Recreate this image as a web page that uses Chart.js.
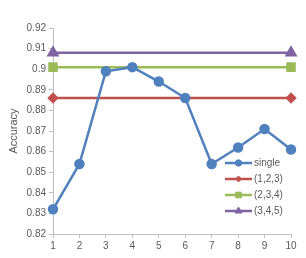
<!DOCTYPE html>
<html lang="en">
<head>
  <meta charset="UTF-8">
  <title>Accuracy</title>
  <script src="https://cdn.jsdelivr.net/npm/chart.js"></script>
  <style>
    html, body { margin: 0; padding: 0; background: #fff; }
    #wrap { width: 306px; height: 258px; }
  </style>
</head>
<body>
  <div id="wrap"><canvas id="accChart" width="306" height="258"></canvas></div>

  <script>
    // values
    const steps = [1, 2, 3, 4, 5, 6, 7, 8, 9, 10];
    const single = [0.832, 0.854, 0.899, 0.901, 0.894, 0.886, 0.854, 0.862, 0.871, 0.861];
    const win123 = [0.886, 0.886, 0.886, 0.886, 0.886, 0.886, 0.886, 0.886, 0.886, 0.886];
    const win234 = [0.901, 0.901, 0.901, 0.901, 0.901, 0.901, 0.901, 0.901, 0.901, 0.901];
    const win345 = [0.908, 0.908, 0.908, 0.908, 0.908, 0.908, 0.908, 0.908, 0.908, 0.908];
    const yTicks = [0.82, 0.83, 0.84, 0.85, 0.86, 0.87, 0.88, 0.89, 0.9, 0.91, 0.92];

    const txt = '#595959';
    const axisCol = '#BFBFBF';
    const font = { family: 'Liberation Sans', size: 10 };

    const toXY = arr => arr.map((v, i) => ({ x: steps[i], y: v }));
    const endsOnly = r => ctx => (ctx.dataIndex === 0 || ctx.dataIndex === steps.length - 1) ? r : 0;

    const drawPt = (ctx, style, r, x, y) => {
      if (Chart.helpers && Chart.helpers.drawPoint) {
        Chart.helpers.drawPoint(ctx, { pointStyle: style, radius: r, rotation: 0, borderWidth: 1 }, x, y);
      }
    };

    // legend sits inside the plot, bottom right
    const innerLegend = {
      id: 'innerLegend',
      afterDatasetsDraw(chart) {
        const { ctx, chartArea } = chart;
        const x0 = chartArea.right - 66;
        let y = chartArea.bottom - 71;
        ctx.save();
        chart.data.datasets.forEach(ds => {
          ctx.strokeStyle = ds.borderColor;
          ctx.fillStyle = ds.backgroundColor;
          ctx.lineWidth = 2.5;
          ctx.beginPath();
          ctx.moveTo(x0, y);
          ctx.lineTo(x0 + 27, y);
          ctx.stroke();
          ctx.lineWidth = 1;
          drawPt(ctx, ds.pointStyle, ds.legendRadius, x0 + 13.5, y);
          ctx.fillStyle = txt;
          ctx.font = '10px "Liberation Sans"';
          ctx.textBaseline = 'middle';
          ctx.textAlign = 'left';
          ctx.fillText(ds.label, x0 + 29, y);
          y += 16;
        });
        ctx.restore();
      }
    };

    new Chart(document.getElementById('accChart').getContext('2d'), {
      type: 'line',
      data: {
        datasets: [
          {
            label: 'single', data: toXY(single),
            borderColor: '#4F81BD', backgroundColor: '#4F81BD',
            pointStyle: 'circle', pointRadius: 4, legendRadius: 3.2,
            borderWidth: 2.5
          },
          {
            label: '(1,2,3)', data: toXY(win123),
            borderColor: '#C0504D', backgroundColor: '#C0504D',
            pointStyle: 'rectRot', pointRadius: endsOnly(4), legendRadius: 3,
            borderWidth: 2.5
          },
          {
            label: '(2,3,4)', data: toXY(win234),
            borderColor: '#9BBB59', backgroundColor: '#9BBB59',
            pointStyle: 'rect', pointRadius: endsOnly(5), legendRadius: 4,
            borderWidth: 2.5
          },
          {
            label: '(3,4,5)', data: toXY(win345),
            borderColor: '#8064A2', backgroundColor: '#8064A2',
            pointStyle: 'triangle', pointRadius: endsOnly(5), legendRadius: 4,
            borderWidth: 2.5
          }
        ]
      },
      options: {
        responsive: false,
        animation: false,
        clip: false,
        layout: { padding: { left: 0, top: 28, right: 15, bottom: 0 } },
        plugins: { legend: { display: false }, tooltip: { enabled: false } },
        scales: {
          x: {
            type: 'linear', min: 1, max: 10,
            afterFit: s => { s.height = 24; },
            afterBuildTicks: s => { s.ticks = steps.map(v => ({ value: v })); },
            ticks: { color: txt, font, padding: 2, maxRotation: 0 },
            grid: { drawOnChartArea: false, tickLength: 4, color: axisCol },
            border: { color: axisCol }
          },
          y: {
            min: 0.82, max: 0.92,
            afterFit: s => { s.width = 53; },
            afterBuildTicks: s => { s.ticks = yTicks.map(v => ({ value: v })); },
            ticks: { color: txt, font, padding: 3, callback: v => String(+v.toFixed(2)) },
            grid: { drawOnChartArea: false, tickLength: 4, color: axisCol },
            border: { color: axisCol },
            title: { display: true, text: 'Accuracy', color: txt, font: { family: 'Liberation Sans', size: 11 }, padding: { top: 7, bottom: 0 } }
          }
        }
      },
      plugins: [innerLegend]
    });
  </script>
</body>
</html>
